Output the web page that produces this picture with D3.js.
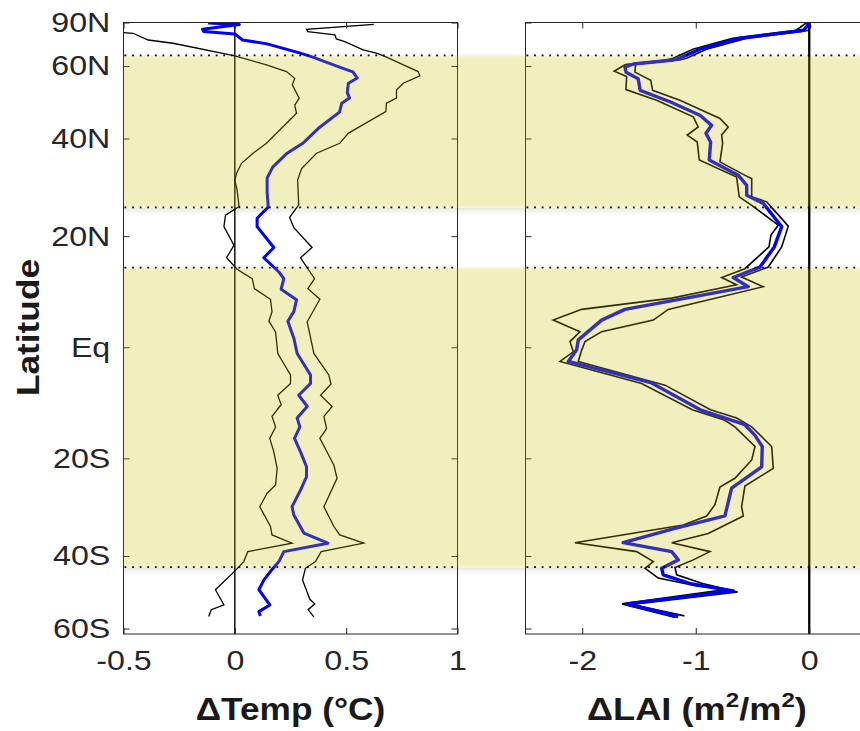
<!DOCTYPE html>
<html>
<head>
<meta charset="utf-8">
<script src="https://cdn.jsdelivr.net/npm/d3@7"></script>
<style>
  html, body { margin: 0; padding: 0; background: #fff; }
  svg { display: block; }
</style>
</head>
<body>
<svg id="fig" width="860" height="731"></svg>
<script>
// ---------- data: [latitude (deg), value] ----------
const tempMean = [[87,-0.12],[83.5,0.02],[78.3,-0.145],[76.4,-0.14],[74.7,0.0],[71.1,0.035],[69.1,0.145],[65,0.29],[63.3,0.35],[59.6,0.47],[58,0.53],[56,0.55],[54.4,0.51],[51.7,0.505],[50.1,0.515],[48.7,0.48],[46.4,0.47],[42.6,0.38],[38.9,0.305],[36.7,0.235],[33.7,0.17],[31.4,0.145],[28.5,0.145],[25.6,0.15],[23.4,0.10],[21.8,0.10],[17.9,0.175],[16,0.13],[13.4,0.198],[12.2,0.22],[10.3,0.208],[8.4,0.277],[6.3,0.265],[4.6,0.238],[1.6,0.265],[-1.1,0.28],[-4.9,0.34],[-6.4,0.34],[-8.5,0.287],[-10.5,0.325],[-12.6,0.28],[-14.2,0.292],[-16.3,0.268],[-18.8,0.295],[-21.6,0.322],[-23.5,0.322],[-26.1,0.295],[-29.4,0.257],[-31.1,0.265],[-34.9,0.31],[-37.1,0.418],[-39,0.22],[-41.3,0.198],[-43.1,0.168],[-45.8,0.13],[-48.3,0.108],[-52.5,0.157],[-54.5,0.108],[-55.8,0.115]];
const tempLow = [[76.5,-0.72],[75.6,-0.5],[75.2,-0.457],[71.1,-0.389],[69.4,-0.277],[63.8,0],[60.4,0.142],[58.1,0.232],[55.9,0.269],[53.9,0.258],[50.1,0.289],[48.2,0.269],[46.1,0.277],[38.9,0.142],[36.7,0.082],[34.5,0.03],[32.4,0.008],[31,0],[29,0.01],[25.7,0.019],[24,-0.042],[21.8,-0.049],[18.3,-0.004],[16,-0.037],[13.9,0.01],[12.2,0.078],[10.4,0.088],[8.5,0.16],[6.3,0.167],[4.6,0.153],[2.7,0.183],[-1.1,0.193],[-4.9,0.25],[-6.4,0.25],[-8.5,0.193],[-10.2,0.208],[-12.3,0.167],[-14.2,0.183],[-16.3,0.157],[-18.8,0.175],[-21.9,0.19],[-25.1,0.183],[-26.7,0.145],[-29.4,0.112],[-33.5,0.16],[-35.3,0.167],[-37.1,0.257],[-39,0.058],[-41.3,0.04],[-43.4,0.003],[-48.3,-0.087],[-52.5,-0.049],[-53.9,-0.106],[-56,-0.117]];
const tempHigh = [[84,0.624],[78.3,0.322],[76.4,0.328],[74.1,0.449],[71.7,0.456],[70.2,0.494],[66.3,0.576],[64.9,0.636],[63.3,0.681],[58.1,0.823],[56.7,0.831],[54.4,0.756],[52.4,0.726],[50.1,0.726],[48.7,0.681],[46.5,0.678],[42.8,0.561],[41.2,0.509],[38.9,0.471],[36.7,0.367],[33.4,0.3],[31,0.282],[26,0.287],[23.6,0.246],[21.6,0.265],[17.9,0.347],[16,0.295],[12.2,0.358],[10.4,0.328],[8.5,0.382],[4.5,0.325],[-1.1,0.355],[-4.9,0.422],[-6.5,0.432],[-8.5,0.385],[-10.5,0.437],[-12.3,0.4],[-14.5,0.412],[-16.3,0.382],[-21.3,0.445],[-23.8,0.459],[-29.4,0.4],[-33.5,0.445],[-35.3,0.471],[-37.1,0.579],[-39,0.388],[-41.3,0.362],[-42.9,0.317],[-45.8,0.304],[-50.9,0.337],[-52.2,0.359],[-53.9,0.329],[-56.1,0.355]];

const laiMean = [[90,0],[81,-0.02],[77.5,-0.05],[76.4,-0.14],[74.1,-0.375],[72.1,-0.61],[66.6,-0.963],[62.9,-1.14],[62.2,-1.2],[60.7,-1.55],[59.7,-1.624],[57.9,-1.614],[55.8,-1.507],[52.3,-1.49],[49.1,-1.227],[45.6,-0.963],[43.1,-0.86],[41.2,-0.91],[39.2,-0.869],[35.2,-0.881],[32,-0.626],[29.9,-0.551],[27.9,-0.551],[26.3,-0.405],[23.4,-0.302],[21.8,-0.243],[18,-0.308],[14.3,-0.434],[12.4,-0.67],[10.75,-0.537],[6.7,-1.624],[4.8,-1.829],[1.3,-2.035],[-0.5,-2.05],[-2.5,-2.123],[-6.3,-1.389],[-11.1,-0.96],[-13.8,-0.567],[-15.7,-0.48],[-17.8,-0.414],[-21.6,-0.419],[-25.7,-0.684],[-31.3,-0.743],[-33.9,-1.183],[-37,-1.639],[-39,-1.212],[-40.9,-1.154],[-42.9,-1.3],[-44.5,-1.286],[-46.8,-1.036],[-48.6,-0.67],[-52.2,-1.609],[-56,-1.154]];
const laiLow = [[90,-0.02],[81,-0.07],[77.5,-0.115],[76.4,-0.205],[74.1,-0.44],[72.1,-0.675],[66.6,-1.025],[62.9,-1.2],[62.2,-1.26],[60.5,-1.62],[58.2,-1.718],[56.5,-1.609],[52.5,-1.615],[49.5,-1.345],[45.2,-1.022],[42.7,-0.978],[40.8,-1.075],[39.2,-0.987],[35.2,-0.969],[31.6,-0.64],[27.6,-0.617],[25.9,-0.507],[22.1,-0.273],[20.2,-0.337],[18,-0.355],[14,-0.567],[12.4,-0.772],[11.1,-0.64],[8.7,-1.212],[6.7,-2.005],[4.8,-2.256],[2.75,-2.02],[1,-2.108],[-0.8,-2.079],[-2.5,-2.196],[-6.4,-1.477],[-11.1,-1.03],[-13,-0.743],[-14.2,-0.655],[-17.8,-0.478],[-20.3,-0.507],[-23.8,-0.655],[-25.5,-0.787],[-29,-0.831],[-31.3,-0.904],[-33.2,-1.11],[-37,-2.064],[-39,-1.521],[-41.3,-1.374],[-42.9,-1.447],[-45.3,-1.33],[-47.3,-0.99],[-48.2,-0.72],[-52.2,-1.65],[-56.3,-1.18]];
const laiHigh = [[90,0.0],[81,0.012],[77.5,-0.005],[76.4,-0.08],[74.1,-0.315],[72.1,-0.55],[66.6,-0.905],[62.9,-1.08],[62.2,-1.14],[60.6,-1.53],[57.9,-1.536],[55.3,-1.397],[52.3,-1.38],[49.5,-1.139],[44.8,-0.787],[42.7,-0.714],[40.8,-0.772],[38.9,-0.763],[34.8,-0.787],[31.6,-0.537],[31.3,-0.507],[27.6,-0.507],[26.6,-0.375],[23,-0.229],[21.9,-0.185],[18,-0.243],[14.3,-0.361],[12.5,-0.596],[10.75,-0.405],[6.7,-1.242],[4.8,-1.374],[2.75,-1.829],[1,-1.976],[-0.5,-2.005],[-2.5,-2.035],[-6.7,-1.271],[-11.1,-0.87],[-12.6,-0.64],[-14.2,-0.507],[-17.8,-0.331],[-21.9,-0.317],[-25.3,-0.567],[-29.4,-0.596],[-31.3,-0.581],[-35,-0.89],[-37,-1.212],[-39,-0.875],[-40.9,-1.022],[-42.7,-1.183],[-44.5,-1.168],[-46.6,-0.948],[-48.9,-0.63],[-52.4,-1.56],[-55.8,-1.1]];

// shaded latitude zones: [northern edge, southern edge]
const zones = [[64, 25.5], [14.2, -42.6]];

const latDomain = [90, -62];
const latTicks = [90, 60, 40, 20, 0, -20, -40, -60];
const latTickLabels = ["90N", "60N", "40N", "20N", "Eq", "20S", "40S", "60S"];

const tempDomain = [-0.5, 1];
const tempTicks = [-0.5, 0, 0.5, 1];
const tempTickLabels = ["-0.5", "0", "0.5", "1"];

const laiDomain = [-2.5, 0.5];
const laiTicks = [-2, -1, 0];
const laiTickLabels = ["-2", "-1", "0"];

// ---------- layout ----------
const FONT = "'Liberation Sans', Arial, Helvetica, sans-serif";
const INK = "#262626";
const plotTop = 22.5, plotBottom = 634;
const rad = d => d * Math.PI / 180;

// area-weighted latitude axis: linear in sin(latitude)
const yS = d3.scaleLinear()
  .domain(latDomain.map(d => Math.sin(rad(d))))
  .range([plotTop, plotBottom]);
const y = lat => yS(Math.sin(rad(lat)));

const svg = d3.select("#fig");
svg.append("rect").attr("width", 860).attr("height", 731).attr("fill", "#fff");
const defs = svg.append("defs");

const soft = defs.append("filter").attr("id", "soft")
  .attr("x", "0").attr("y", "-0.2").attr("width", "1").attr("height", "1.4");
soft.append("feGaussianBlur").attr("stdDeviation", "0 1.4");

const shade = defs.append("linearGradient").attr("id", "shade")
  .attr("x1", 0).attr("y1", 0).attr("x2", 0).attr("y2", 1);
shade.append("stop").attr("offset", 0).attr("stop-color", "#000").attr("stop-opacity", 0.08);
shade.append("stop").attr("offset", 1).attr("stop-color", "#000").attr("stop-opacity", 0);

const panels = [
  { x0: 123.5, x1: 457.5, domain: tempDomain, ticks: tempTicks, labels: tempTickLabels,
    low: tempLow, high: tempHigh, mean: tempMean, blackW: 1.3, blueW: 3, zeroW: 1.4,
    showLat: true },
  { x0: 525.5, x1: 866, domain: laiDomain, ticks: laiTicks, labels: laiTickLabels,
    low: laiLow, high: laiHigh, mean: laiMean, blackW: 1.6, blueW: 3.4, zeroW: 2.3,
    showLat: false }
];

function styleAxis(sel, fontSize) {
  sel.select(".domain").remove();
  sel.selectAll(".tick line").attr("stroke", INK).attr("stroke-width", 1);
  sel.selectAll(".tick text")
    .attr("fill", INK)
    .style("font-family", FONT)
    .style("font-size", fontSize + "px")
    .attr("transform", "scale(1.15,1)");
}

panels.forEach((p, i) => {
  const x = d3.scaleLinear().domain(p.domain).range([p.x0, p.x1]);
  const g = svg.append("g");

  defs.append("clipPath").attr("id", "clip" + i)
    .append("rect")
    .attr("x", p.x0).attr("y", plotTop)
    .attr("width", p.x1 - p.x0).attr("height", plotBottom - plotTop);

  const data = g.append("g").attr("clip-path", `url(#clip${i})`);

  // zero reference line
  data.append("line")
    .attr("x1", x(0)).attr("x2", x(0))
    .attr("y1", plotTop).attr("y2", plotBottom)
    .attr("stroke", "#000").attr("stroke-width", p.zeroW);

  const line = d3.line().x(d => x(d[1])).y(d => y(d[0]));

  [p.low, p.high].forEach(s => {
    data.append("path").datum(s)
      .attr("d", line)
      .attr("fill", "none")
      .attr("stroke", "#000")
      .attr("stroke-width", p.blackW)
      .attr("stroke-linejoin", "miter");
  });
  data.append("path").datum(p.mean)
    .attr("d", line)
    .attr("fill", "none")
    .attr("stroke", "#0000ff")
    .attr("stroke-width", p.blueW)
    .attr("stroke-linejoin", "round");

  // axes box
  g.append("rect")
    .attr("x", p.x0).attr("y", plotTop)
    .attr("width", p.x1 - p.x0).attr("height", plotBottom - plotTop)
    .attr("fill", "none").attr("stroke", INK).attr("stroke-width", 1);

  const latVals = latTicks.map(d => Math.sin(rad(d)));

  g.append("g")
    .attr("transform", `translate(0,${plotBottom})`)
    .call(d3.axisBottom(x).tickValues(p.ticks)
      .tickFormat((d, k) => p.labels[k])
      .tickSizeInner(-6).tickSizeOuter(0).tickPadding(16))
    .call(s => styleAxis(s, 28));

  g.append("g")
    .attr("transform", `translate(0,${plotTop})`)
    .call(d3.axisTop(x).tickValues(p.ticks)
      .tickFormat("").tickSizeInner(-6).tickSizeOuter(0))
    .call(s => styleAxis(s, 28));

  g.append("g")
    .attr("transform", `translate(${p.x0},0)`)
    .call(d3.axisLeft(yS).tickValues(latVals)
      .tickFormat((d, k) => p.showLat ? latTickLabels[k] : "")
      .tickSizeInner(-6).tickSizeOuter(0).tickPadding(11.5))
    .call(s => styleAxis(s, 28));

  g.append("g")
    .attr("transform", `translate(${p.x1},0)`)
    .call(d3.axisRight(yS).tickValues(latVals)
      .tickFormat("").tickSizeInner(-6).tickSizeOuter(0))
    .call(s => styleAxis(s, 28));
});

// shaded latitude zones across both panels
const band = svg.append("g");
zones.forEach(z => {
  const yTop = y(z[0]), yBot = y(z[1]);
  band.append("rect")
    .attr("x", panels[0].x0).attr("y", yTop)
    .attr("width", 860 - panels[0].x0).attr("height", yBot - yTop)
    .attr("fill", "rgb(204,192,0)").attr("fill-opacity", 0.25)
    .attr("filter", "url(#soft)");
  band.append("rect")
    .attr("x", panels[0].x0).attr("y", yBot + 0.5)
    .attr("width", 860 - panels[0].x0).attr("height", 8)
    .attr("fill", "url(#shade)");
});

// dotted zone boundaries in each panel
panels.forEach(p => {
  zones.forEach(z => {
    z.forEach(lat => {
      svg.append("line")
        .attr("x1", p.x0 + 1).attr("x2", Math.min(p.x1, 866))
        .attr("y1", y(lat)).attr("y2", y(lat))
        .attr("stroke", "#000").attr("stroke-width", 1.8)
        .attr("stroke-dasharray", "1.8 5.8");
    });
  });
});

// axis titles
const titleStyle = s => s
  .attr("text-anchor", "middle")
  .attr("fill", "#1a1a1a")
  .style("font-family", FONT)
  .style("font-weight", "bold")
  .style("font-size", "31.5px");

svg.append("text")
  .attr("transform", `translate(${(panels[0].x0 + panels[0].x1) / 2},720) scale(1.12,1)`)
  .call(titleStyle)
  .text("\u0394Temp (\u00B0C)");

const laiTitle = svg.append("text")
  .attr("transform", "translate(697,720) scale(1.15,1)")
  .call(titleStyle);
laiTitle.append("tspan").text("\u0394LAI (m");
laiTitle.append("tspan").attr("dy", -13).style("font-size", "21px").text("2");
laiTitle.append("tspan").attr("dy", 13).text("/m");
laiTitle.append("tspan").attr("dy", -13).style("font-size", "21px").text("2");
laiTitle.append("tspan").attr("dy", 13).text(")");

svg.append("text")
  .attr("transform", "translate(38.5,327.5) rotate(-90) scale(1.12,1)")
  .call(titleStyle)
  .text("Latitude");
</script>
</body>
</html>
